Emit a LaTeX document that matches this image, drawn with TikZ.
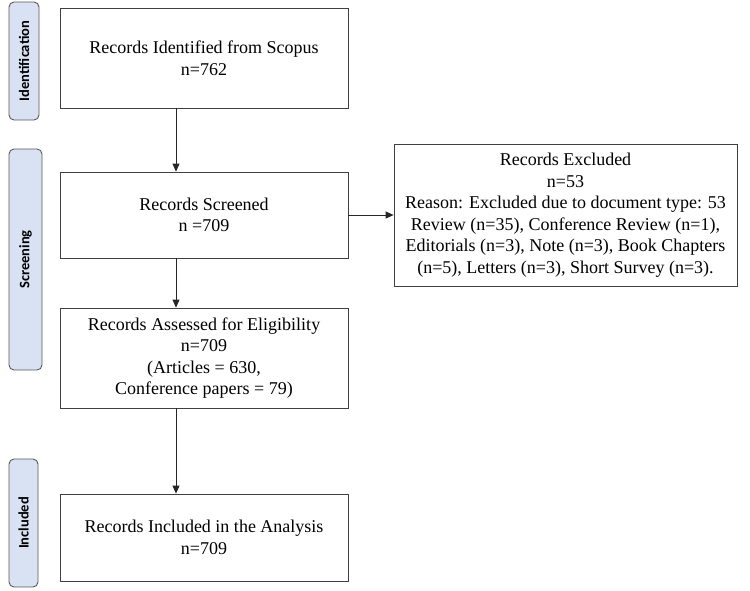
\documentclass[tikz,border=0pt]{standalone}
\usepackage{fontspec}
\setmainfont{Liberation Serif}
\newfontfamily\labfont{Carlito}
\usetikzlibrary{arrows.meta}
\definecolor{phasefill}{RGB}{217,226,243}
\tikzset{
  box/.style={draw=black!75, line width=0.8pt, fill=white, align=center, font=\fontsize{18}{21.5}\selectfont, inner sep=0pt},
  phase/.style={draw=black!65, line width=0.9pt, rounded corners=5pt, fill=phasefill, inner sep=0pt},
  phaselab/.style={font=\labfont\bfseries\fontsize{14.5}{16}\selectfont, rotate=90},
  arr/.style={-{Triangle[length=8pt,width=7pt]}, line width=0.8pt, draw=black!85}
}
\begin{document}
\begin{tikzpicture}[x=1pt,y=-1pt]
\useasboundingbox (0,0) rectangle (750,590);
% phase bars
\draw[phase] (9,2) rectangle (39,120);
\node[phaselab] (pid) at (24,61) {Identification};
\draw[phase] (9,149) rectangle (42,370);
\node[phaselab] (pscr) at (25.5,259.5) {Screening};
\draw[phase] (9,459) rectangle (38,587);
\node[phaselab] (pinc) at (23.5,523) {Included};
% boxes
\node[box, minimum width=288pt, minimum height=100pt] (b1) at (204,58) {Records Identified from Scopus\\n=762};
\node[box, minimum width=288pt, minimum height=86pt] (b2) at (204,215) {Records Screened\\n =709};
\node[box, minimum width=288pt, minimum height=100pt] (b3) at (204,358) {Records Assessed for Eligibility\\n=709\\(Articles = 630,\\Conference papers = 79)};
\node[box, minimum width=288pt, minimum height=87pt] (b4) at (204,537.5) {Records Included in the Analysis\\n=709};
\node[box, minimum width=343pt, minimum height=142pt] (ex) at (565.5,215) {Records Excluded\\n=53\\Reason: Excluded due to document type: 53\\Review (n=35), Conference Review (n=1),\\Editorials (n=3), Note (n=3), Book Chapters\\(n=5), Letters (n=3), Short Survey (n=3).};
% arrows
\draw[arr] ([xshift=-28pt]b1.south) -- ([xshift=-28pt]b2.north);
\draw[arr] ([xshift=-28pt]b2.south) -- ([xshift=-28pt]b3.north);
\draw[arr] ([xshift=-28pt]b3.south) -- ([xshift=-28pt]b4.north);
\draw[arr] (b2.east) -- (b2.east -| ex.west);
\end{tikzpicture}
\end{document}
